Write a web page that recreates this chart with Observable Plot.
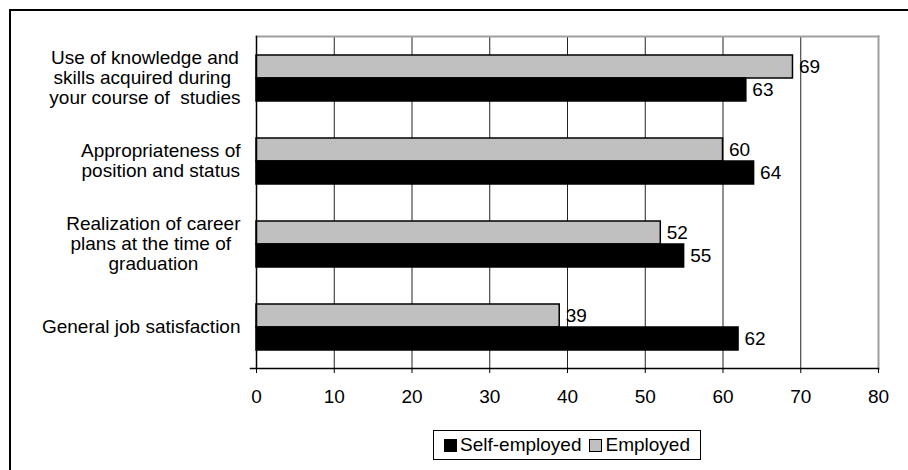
<!DOCTYPE html>
<html>
<head>
<meta charset="utf-8">
<script src="https://cdn.jsdelivr.net/npm/d3@7"></script>
<script src="https://cdn.jsdelivr.net/npm/@observablehq/plot@0.6"></script>
<style>
  html, body { margin: 0; padding: 0; background: #fff; }
  body { width: 908px; height: 470px; overflow: hidden; position: relative; font-family: "Liberation Sans", Arial, sans-serif; }
  #outer { position: absolute; left: 9px; top: 9px; width: 899px; height: 461px; border-left: 2px solid #000; border-top: 2px solid #000; box-sizing: border-box; }
  #chart { position: absolute; left: 0; top: 0; }
  #legend { position: absolute; left: 433px; top: 430px; width: 268px; height: 30px; box-sizing: border-box; border: 1px solid #000; background: #fff;
            display: flex; align-items: center; justify-content: center; font-size: 19px; color: #000; white-space: nowrap; }
  .sw { display: inline-block; width: 11px; height: 11px; border: 1px solid #000; margin: 0 3px 0 0; }
  .item { display: inline-flex; align-items: center; margin: 0 4px; }
</style>
</head>
<body>
<div id="outer"></div>
<div id="chart"></div>
<div id="legend"></div>
<script>
const categories = [
  "Use of knowledge and\nskills acquired during \nyour course of  studies",
  "Appropriateness of\nposition and status",
  "Realization of career\nplans at the time of \ngraduation",
  "General job satisfaction"
];
const seriesNames = ["Self-employed", "Employed"];
const selfEmployed = [63, 64, 55, 62];
const employed = [69, 60, 52, 39];
const xTicks = [0, 10, 20, 30, 40, 50, 60, 70, 80];
const seriesColors = ["#000000", "#c0c0c0"];

const rows = categories.flatMap((c, i) => [
  {category: c, series: "Employed", value: employed[i]},
  {category: c, series: "Self-employed", value: selfEmployed[i]}
]);

const FONT = 19;
const ctx = document.createElement("canvas").getContext("2d");
ctx.font = `${FONT}px "Liberation Sans"`;
const blockWidth = c => Math.max(...c.split("\n").map(l => ctx.measureText(l).width));

const labelMarks = categories.map(c => Plot.text([c], {
  fy: d => d,
  text: d => d,
  frameAnchor: "left",
  textAnchor: "middle",
  lineAnchor: "middle",
  lineHeight: 20 / FONT,
  dx: -(16 + blockWidth(c) / 2),
  fill: "#000",
  fontSize: FONT
}));

const chart = Plot.plot({
  width: 908,
  height: 420,
  marginLeft: 256,
  marginRight: 30,
  marginTop: 34,
  marginBottom: 51,
  style: {fontFamily: '"Liberation Sans", Arial, sans-serif', fontSize: FONT + "px", color: "#000", background: "transparent", overflow: "visible"},
  x: {domain: [0, 80], axis: null},
  y: {domain: ["Employed", "Self-employed"], paddingInner: 0, paddingOuter: 0.745, axis: null},
  fy: {domain: categories, padding: 0, axis: null},
  color: {domain: seriesNames, range: seriesColors},
  marks: [
    Plot.ruleX(xTicks.slice(1, -1), {stroke: "#222", strokeWidth: 1}),
    Plot.frame({anchor: "top", stroke: "#a0a0a0", strokeWidth: 2, facet: "super"}),
    Plot.frame({anchor: "right", stroke: "#a0a0a0", strokeWidth: 2, facet: "super"}),
    Plot.barX(rows, {x: "value", y: "series", fy: "category", fill: "series", stroke: "#000", strokeWidth: 1.5}),
    Plot.text(rows, {x: "value", y: "series", fy: "category", text: d => String(d.value), textAnchor: "start", dx: 6, fill: "#000", fontSize: FONT}),
    Plot.frame({anchor: "left", stroke: "#000", strokeWidth: 1.5, facet: "super"}),
    Plot.frame({anchor: "bottom", stroke: "#000", strokeWidth: 1.5, insetLeft: -6, facet: "super"}),
    Plot.axisX({ticks: xTicks, tickSize: 5, tickPadding: 16, tickFormat: d => String(d), fontSize: FONT, label: null, stroke: "#000", fill: "#000"}),
    ...labelMarks
  ]
});
document.getElementById("chart").appendChild(chart);

const legend = document.getElementById("legend");
seriesNames.forEach((s, i) => {
  const item = document.createElement("span");
  item.className = "item";
  const sw = document.createElement("span");
  sw.className = "sw";
  sw.style.background = seriesColors[i];
  item.appendChild(sw);
  item.appendChild(document.createTextNode(s));
  legend.appendChild(item);
});
</script>
</body>
</html>
